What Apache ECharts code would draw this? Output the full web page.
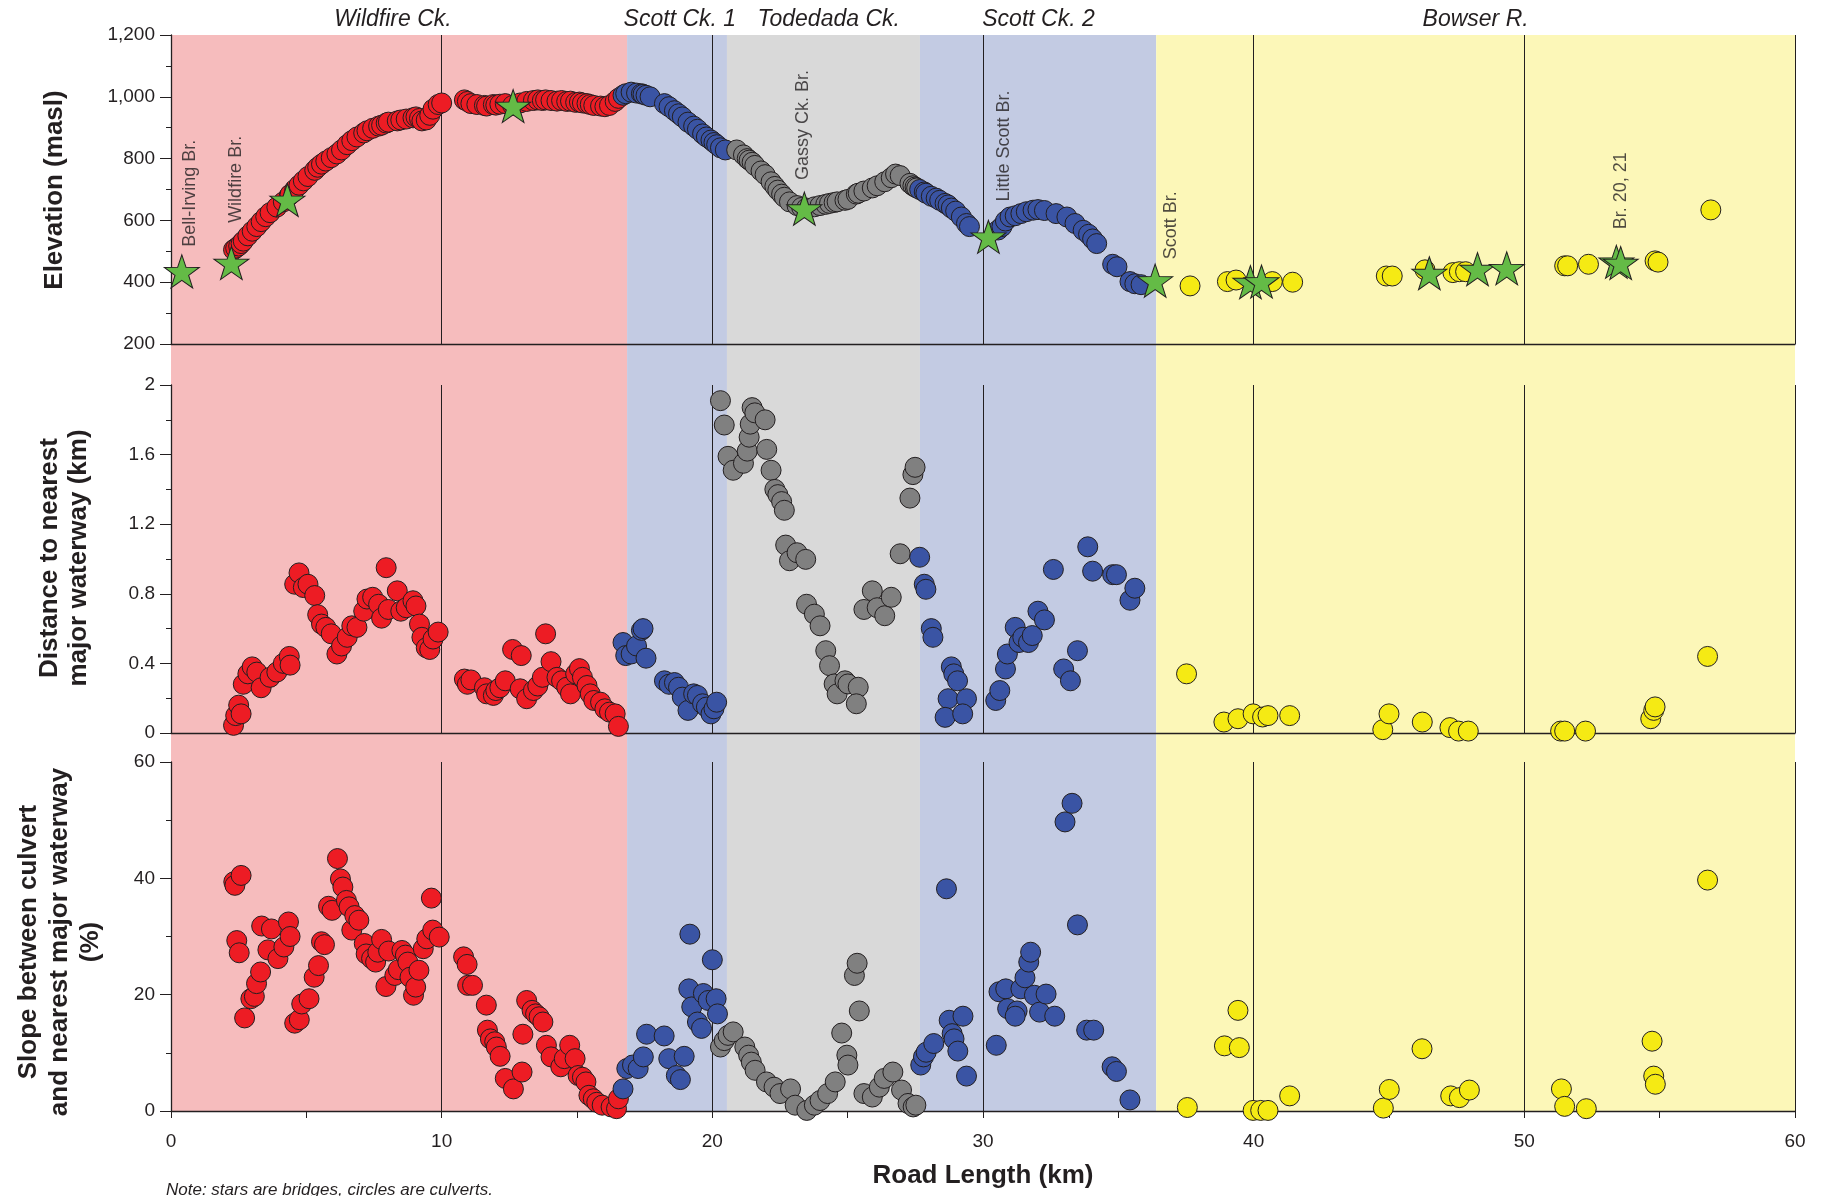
<!DOCTYPE html>
<html><head><meta charset="utf-8">
<script src="https://cdn.jsdelivr.net/npm/echarts@6/dist/echarts.min.js"></script>
<style>html,body{margin:0;padding:0;background:#fff}#c{width:1824px;height:1196px}</style>
</head><body><div id="c"></div>
<script>
// ---------------- DATA ----------------
const regionNames = ['Wildfire Ck.', 'Scott Ck. 1', 'Todedada Ck.', 'Scott Ck. 2', 'Bowser R.'];
const regionStart = [0, 16.85, 20.54, 27.67, 36.4];
const regionEnd   = [16.85, 20.54, 27.67, 36.4, 60];
const regionTitleKm = [8.2, 18.8, 24.3, 32.05, 48.2];

// Elevation (masl) of culverts, [road km, elevation]
const redElev = [[2.31,505],[2.39,510],[2.5,517],[2.59,525],[2.67,533],[2.84,550],[3.0,565],[3.17,580],[3.33,596],[3.5,612],[3.66,625],[3.91,643],[4.15,660],[4.37,680],[4.4,684],[4.57,700],[4.73,714],[4.89,728],[5.06,742],[5.31,762],[5.42,772],[5.56,782],[5.72,792],[5.92,803],[6.13,815],[6.3,828],[6.51,845],[6.68,858],[6.87,870],[7.12,883],[7.24,890],[7.45,898],[7.67,905],[7.78,908],[7.95,915],[8.03,918],[8.36,922],[8.49,925],[8.69,928],[8.94,932],[9.05,935],[9.18,930],[9.27,922],[9.43,925],[9.56,940],[9.68,960],[9.87,975],[10.0,980],
  [10.84,990],[10.95,985],[11.08,978],[11.3,975],[11.58,972],[11.66,970],[11.91,975],[12.0,973],[12.15,976],[12.35,978],[12.62,972],[12.9,980],[13.14,985],[13.39,988],[13.55,990],[13.72,988],[13.84,990],[14.04,988],[14.26,986],[14.43,988],[14.62,985],[14.76,986],[14.95,982],[15.09,983],[15.2,980],[15.37,978],[15.49,975],[15.62,972],[15.87,970],[16.03,968],[16.2,972],[16.41,985],[16.53,995]];
const blue1Elev = [[16.7,1005],[16.8,1010],[17.0,1015],[17.2,1012],[17.38,1010],[17.44,1008],[17.55,1005],[17.7,1000],[18.23,978],[18.4,968],[18.6,955],[18.75,945],[18.89,935],[19.1,918],[19.31,905],[19.45,895],[19.64,880],[19.78,870],[19.95,860],[20.06,852],[20.16,845],[20.3,835],[20.48,828]];
const grayElev = [[20.9,828],[21.15,812],[21.29,800],[21.36,795],[21.47,788],[21.57,778],[21.8,760],[21.95,748],[22.17,725],[22.31,710],[22.42,698],[22.56,685],[22.66,675],[22.85,660],[23.13,648],[23.3,642],[23.48,640],[23.77,644],[23.98,648],[24.19,652],[24.33,655],[24.5,658],[24.61,660],[24.9,665],[25.01,668],[25.32,685],[25.39,688],[25.6,695],[25.91,705],[26.09,712],[26.37,725],[26.61,738],[26.77,750],[26.94,745],[27.3,720],[27.41,712],[27.49,708],[27.55,705]];
const blue2Elev = [[27.66,700],[27.83,692],[27.89,688],[28.09,678],[28.27,672],[28.4,665],[28.6,655],[28.71,650],[28.83,640],[28.99,630],[29.2,611],[29.39,590],[29.5,580],[30.56,569],[30.7,580],[30.83,598],[31.0,611],[31.19,615],[31.4,622],[31.6,628],[31.85,633],[32.03,635],[32.27,632],[32.7,622],[33.1,611],[33.4,590],[33.7,568],[33.9,555],[34.05,540],[34.2,525],[34.79,458],[34.95,450],[35.43,402],[35.61,395],[35.84,392]];
const yellowElev = [[37.65,388],[39.03,402],[39.35,407],[40.69,402],[41.44,400],[44.9,420],[45.12,420],[46.33,440],[47.36,431],[47.6,434],[47.83,434],[51.49,453],[51.6,453],[52.37,458],[54.83,469],[54.94,465],[56.89,634]];
// Bridges (stars), [road km, elevation]
const bridgeElev = [[0.4,435],[2.23,462],[4.3,666],[12.64,970],[23.4,638],[30.2,547],[36.36,405],[39.88,400],[40.29,402],[46.49,429],[48.27,442],[49.35,445],[53.4,466],[53.56,462]];
// Bridge names, anchored at [road km, elevation]
const bridgeNames = ['Bell-Irving Br.', 'Wildfire Br.', 'Gassy Ck. Br.', 'Little Scott Br.', 'Scott Br.', 'Br. 20, 21'];
const bridgeNameAt = [[0.69,515],[2.42,592],[23.34,731],[30.76,661],[36.96,474],[53.56,571]];

// Distance to nearest major waterway (km), [road km, distance]
const redDist = [[2.31,0.044],[2.39,0.10],[2.5,0.16],[2.59,0.11],[2.67,0.28],[2.84,0.34],[3.0,0.38],[3.17,0.35],[3.33,0.26],[3.66,0.32],[3.91,0.35],[4.15,0.40],[4.37,0.44],[4.4,0.39],[4.57,0.855],[4.73,0.92],[4.89,0.836],[5.06,0.855],[5.31,0.79],[5.42,0.68],[5.56,0.626],[5.72,0.607],[5.92,0.57],[6.13,0.454],[6.3,0.50],[6.51,0.55],[6.68,0.616],[6.87,0.607],[7.12,0.70],[7.24,0.77],[7.45,0.78],[7.67,0.74],[7.78,0.66],[7.95,0.95],[8.03,0.71],[8.36,0.817],[8.49,0.70],[8.69,0.72],[8.94,0.76],[9.05,0.73],[9.18,0.626],[9.27,0.55],[9.43,0.49],[9.56,0.48],[9.68,0.54],[9.87,0.58],
  [10.84,0.31],[10.95,0.28],[11.08,0.305],[11.58,0.26],[11.66,0.225],[11.91,0.216],[12.0,0.244],[12.15,0.26],[12.35,0.30],[12.62,0.48],[12.94,0.445],[12.9,0.254],[13.14,0.197],[13.39,0.244],[13.55,0.27],[13.72,0.32],[13.84,0.57],[14.04,0.41],[14.26,0.32],[14.43,0.30],[14.62,0.263],[14.76,0.225],[14.95,0.34],[15.09,0.37],[15.2,0.32],[15.37,0.273],[15.49,0.225],[15.62,0.187],[15.87,0.177],[16.03,0.139],[16.2,0.12],[16.41,0.11],[16.53,0.038]];
const blue1Dist = [[16.7,0.52],[16.8,0.445],[17.0,0.454],[17.2,0.50],[17.38,0.59],[17.44,0.60],[17.55,0.43],[18.23,0.30],[18.4,0.28],[18.6,0.29],[18.75,0.263],[18.89,0.206],[19.1,0.13],[19.31,0.225],[19.45,0.216],[19.64,0.168],[19.78,0.149],[19.95,0.11],[20.06,0.139],[20.16,0.177]];
const grayDist = [[20.3,1.91],[20.44,1.77],[20.58,1.59],[20.77,1.51],[21.15,1.55],[21.29,1.62],[21.36,1.70],[21.4,1.775],[21.47,1.87],[21.57,1.84],[21.95,1.80],[22.01,1.63],[22.17,1.51],[22.31,1.40],[22.42,1.37],[22.56,1.33],[22.66,1.28],[22.71,1.08],[22.85,0.99],[23.13,1.036],[23.45,0.998],[23.48,0.74],[23.77,0.683],[23.98,0.616],[24.19,0.473],[24.33,0.387],[24.5,0.282],[24.61,0.225],[24.9,0.30],[25.01,0.282],[25.39,0.263],[25.32,0.168],[25.6,0.71],[25.91,0.817],[26.09,0.72],[26.37,0.674],[26.61,0.78],[26.94,1.03],[27.3,1.35],[27.41,1.485],[27.49,1.527]];
const blue2Dist = [[27.66,1.01],[27.83,0.855],[27.89,0.826],[28.09,0.60],[28.15,0.55],[28.83,0.38],[28.92,0.34],[29.06,0.30],[28.71,0.197],[29.39,0.197],[28.6,0.09],[29.25,0.11],[30.47,0.187],[30.62,0.244],[30.83,0.368],[30.9,0.454],[31.19,0.607],[31.33,0.52],[31.47,0.55],[31.68,0.52],[31.82,0.56],[32.03,0.70],[32.27,0.65],[32.6,0.94],[32.98,0.368],[33.23,0.30],[33.49,0.473],[33.87,1.07],[34.05,0.93],[34.79,0.91],[34.93,0.91],[35.43,0.763],[35.61,0.832]];
const yellowDist = [[37.52,0.34],[38.9,0.063],[39.42,0.082],[39.98,0.11],[40.33,0.092],[40.53,0.10],[41.33,0.10],[44.77,0.019],[45.0,0.11],[46.23,0.063],[47.25,0.031],[47.57,0.011],[47.93,0.011],[51.34,0.011],[51.49,0.011],[52.26,0.011],[54.67,0.082],[54.78,0.13],[54.83,0.15],[56.77,0.44]];

// Slope between culvert and nearest major waterway (%), [road km, slope]
const redSlope = [[2.32,39.4],[2.36,38.8],[2.59,40.5],[2.43,29.3],[2.52,27.2],[2.72,16.0],[2.95,19.3],[3.08,19.7],[3.16,21.9],[3.31,23.9],[3.35,31.8],[3.71,31.3],[3.58,27.7],[3.95,26.2],[4.17,28.2],[4.34,32.5],[4.4,30.0],[4.57,15.1],[4.74,15.7],[4.83,18.4],[5.1,19.3],[5.29,23.0],[5.45,25.0],[5.56,29.1],[5.67,28.6],[5.82,35.2],[5.95,34.5],[6.15,43.4],[6.26,39.9],[6.35,38.5],[6.48,36.2],[6.58,35.1],[6.68,31.1],[6.79,33.6],[6.94,32.8],[7.14,28.8],[7.21,27.0],[7.41,26.2],[7.56,25.6],[7.64,27.3],[7.78,29.5],[7.94,21.4],[8.04,27.5],[8.27,23.3],[8.4,24.3],[8.53,27.6],[8.66,26.8],[8.75,25.6],[8.83,23.0],[8.96,19.9],[9.04,21.3],[9.16,24.2],[9.32,27.9],[9.45,29.6],[9.62,36.6],[9.67,31.1],[9.91,29.9],
  [10.81,26.5],[10.94,25.2],[10.96,21.6],[11.14,21.6],[11.65,18.2],[11.69,13.9],[11.8,12.4],[11.96,11.9],[12.02,11.0],[12.16,9.4],[12.35,5.6],[12.65,3.8],[13.0,13.2],[12.97,6.7],[13.14,19.0],[13.34,17.3],[13.47,16.7],[13.6,16.2],[13.74,15.3],[13.87,11.3],[14.04,9.3],[14.4,7.6],[14.53,9.0],[14.73,11.3],[14.93,9.0],[15.04,6.1],[15.2,5.8],[15.33,5.0],[15.44,2.7],[15.6,2.1],[15.73,1.5],[15.93,1.0],[16.26,0.7],[16.46,0.4],[16.53,2.1]];
const blue1Slope = [[16.7,3.8],[16.84,7.3],[17.05,7.9],[17.26,7.3],[17.45,9.3],[17.57,13.2],[18.22,12.9],[18.39,9.0],[18.67,6.1],[18.82,5.4],[18.96,9.4],[19.13,21.0],[19.17,30.4],[19.24,17.9],[19.45,15.3],[19.6,14.2],[19.67,20.2],[19.85,19.0],[20.0,26.0],[20.14,19.3],[20.19,16.7]];
const graySlope = [[20.3,11.0],[20.44,12.1],[20.58,13.0],[20.77,13.6],[21.2,11.0],[21.34,9.6],[21.44,8.4],[21.58,7.0],[22.0,5.0],[22.28,4.1],[22.5,3.0],[22.89,3.8],[23.06,1.0],[23.49,0.1],[23.77,1.0],[23.98,1.8],[24.26,3.0],[24.54,5.0],[24.78,13.4],[24.97,9.6],[25.01,7.9],[25.25,23.3],[25.35,25.4],[25.43,17.2],[25.6,3.0],[25.91,2.4],[26.17,4.1],[26.35,5.6],[26.67,6.7],[26.99,3.6],[27.23,1.3],[27.42,0.7],[27.52,1.0]];
const blue2Slope = [[27.7,7.9],[27.8,9.3],[27.9,10.1],[28.18,11.6],[28.65,38.2],[28.75,15.6],[28.86,13.3],[28.93,12.4],[29.07,10.3],[29.26,16.3],[29.39,6.0],[30.49,11.3],[30.59,20.5],[30.84,21.0],[30.91,17.6],[31.26,17.2],[31.19,16.3],[31.4,21.0],[31.55,22.9],[31.69,25.6],[31.76,27.3],[31.9,19.9],[32.09,17.0],[32.33,20.1],[32.65,16.3],[33.03,49.7],[33.29,52.9],[33.49,32.0],[33.83,13.9],[34.09,13.9],[34.77,7.6],[34.93,6.8],[35.43,1.9]];
const yellowSlope = [[37.55,0.6],[38.92,11.2],[39.42,17.3],[39.47,10.9],[39.98,0.1],[40.26,0.1],[40.53,0.1],[41.33,2.6],[44.79,0.5],[45.01,3.7],[46.22,10.7],[47.28,2.6],[47.6,2.3],[47.97,3.6],[51.37,3.8],[51.49,0.8],[52.29,0.4],[54.72,12.0],[54.78,6.0],[54.84,4.6],[56.77,39.7]];

// ---------------- STYLE ----------------
const FONT = '"Liberation Sans", Arial, Helvetica, sans-serif';
const INK = '#231F20';
const regionBg = ['#F6BCBD', '#C3CBE3', '#D9D9D9', '#C3CBE3', '#FCF7B8'];
const C_RED = '#ED1C24', C_BLUE = '#3A54A4', C_GRAY = '#808080', C_YEL = '#F5EA14', C_STAR = '#64BB46';

const starPath = (() => {
  let d = '';
  for (let i = 0; i < 10; i++) {
    const r = i % 2 === 0 ? 50 : 19.5;
    const a = -Math.PI / 2 + i * Math.PI / 5;
    d += (i ? 'L' : 'M') + (r * Math.cos(a)).toFixed(2) + ' ' + (r * Math.sin(a)).toFixed(2) + ' ';
  }
  return 'path://' + d + 'Z';
})();

const chart = echarts.init(document.getElementById('c'), null, { renderer: 'canvas' });

function dots(data, color, idx) {
  return {
    type: 'scatter', xAxisIndex: idx, yAxisIndex: idx, data: data,
    symbol: 'circle', symbolSize: 20, z: 3, silent: true,
    itemStyle: { color: color, borderColor: INK, borderWidth: 1, opacity: 1 }
  };
}

const L = 171, W = 1624;
const grids = [
  { left: L, top: 35, width: W, height: 1076 },
  { left: L, top: 35, width: W, height: 309 },
  { left: L, top: 385, width: W, height: 348 },
  { left: L, top: 762, width: W, height: 349 }
];

function xAx(i) {
  const isBottom = i === 3;
  return {
    type: 'value', gridIndex: i, min: 0, max: 60, interval: 10,
    axisLine: { show: true, onZero: false, lineStyle: { color: INK, width: 1.3 } },
    axisTick: { show: isBottom, length: 7, lineStyle: { color: INK } },
    minorTick: { show: isBottom, splitNumber: 2, length: 7, lineStyle: { color: INK } },
    axisLabel: { show: isBottom, margin: 21, color: INK, fontSize: 19, fontFamily: FONT },
    splitLine: { show: true, lineStyle: { color: INK, width: 1 } }
  };
}
function yAx(i, min, max, interval, fmt) {
  return {
    type: 'value', gridIndex: i, min: min, max: max, interval: interval,
    axisLine: { show: true, onZero: false, lineStyle: { color: INK, width: 1.3 } },
    axisTick: { show: true, length: 11, lineStyle: { color: INK } },
    minorTick: { show: true, splitNumber: 2, length: 5, lineStyle: { color: INK } },
    axisLabel: { margin: 16, color: INK, fontSize: 19, fontFamily: FONT, formatter: fmt },
    splitLine: { show: false }
  };
}

const option = {
  animation: false,
  backgroundColor: '#ffffff',
  textStyle: { fontFamily: FONT },
  grid: grids,
  xAxis: [
    { type: 'value', gridIndex: 0, min: 0, max: 60, show: false },
    xAx(1), xAx(2), xAx(3)
  ],
  yAxis: [
    { type: 'value', gridIndex: 0, min: 0, max: 1, show: false },
    yAx(1, 200, 1200, 200, v => Number(v).toLocaleString('en-US')),
    yAx(2, 0, 2, 0.4, v => String(+Number(v).toFixed(1))),
    yAx(3, 0, 60, 20, v => String(v))
  ],
  series: [
    {
      type: 'custom', xAxisIndex: 0, yAxisIndex: 0, z: -10, clip: false, silent: true,
      data: regionStart.map((s, i) => [s, regionEnd[i], i, regionTitleKm[i]]),
      renderItem: function (params, api) {
        const s = api.value(0), e = api.value(1), i = api.value(2), t = api.value(3);
        const p0 = api.coord([s, 1]), p1 = api.coord([e, 0]), pt = api.coord([t, 1]);
        return {
          type: 'group',
          children: [
            { type: 'rect', shape: { x: p0[0], y: p0[1], width: p1[0] - p0[0], height: p1[1] - p0[1] },
              style: { fill: regionBg[i] } },
            { type: 'text', x: pt[0], y: p0[1] - 15,
              style: { text: regionNames[i], fill: INK, font: 'italic 23px ' + FONT, align: 'center', verticalAlign: 'middle' } }
          ]
        };
      }
    },
    // Elevation panel
    dots(redElev, C_RED, 1), dots(blue1Elev, C_BLUE, 1), dots(grayElev, C_GRAY, 1),
    dots(blue2Elev, C_BLUE, 1), dots(yellowElev, C_YEL, 1),
    {
      type: 'scatter', xAxisIndex: 1, yAxisIndex: 1, data: bridgeElev, z: 4, silent: true,
      symbol: starPath, symbolSize: [35, 33],
      itemStyle: { color: C_STAR, borderColor: INK, borderWidth: 1, opacity: 1 }
    },
    {
      type: 'scatter', xAxisIndex: 1, yAxisIndex: 1, z: 5, silent: true,
      data: bridgeNameAt.map((p, i) => [p[0], p[1], bridgeNames[i]]),
      symbolSize: 1, itemStyle: { color: 'rgba(0,0,0,0)' },
      label: { show: true, formatter: p => p.value[2], rotate: 90, position: 'inside',
        align: 'left', verticalAlign: 'middle', color: INK, fontSize: 18, fontFamily: FONT }
    },
    // Distance panel
    dots(redDist, C_RED, 2), dots(blue1Dist, C_BLUE, 2), dots(grayDist, C_GRAY, 2),
    dots(blue2Dist, C_BLUE, 2), dots(yellowDist, C_YEL, 2),
    // Slope panel
    dots(redSlope, C_RED, 3), dots(blue1Slope, C_BLUE, 3), dots(graySlope, C_GRAY, 3),
    dots(blue2Slope, C_BLUE, 3), dots(yellowSlope, C_YEL, 3)
  ],
  graphic: [
    { type: 'text', x: 55, y: 190, rotation: Math.PI / 2,
      style: { text: 'Elevation (masl)', font: 'bold 26px ' + FONT, fill: INK, align: 'center', verticalAlign: 'middle' } },
    { type: 'text', x: 64, y: 558, rotation: Math.PI / 2,
      style: { text: 'Distance to nearest\nmajor waterway (km)', font: 'bold 26px ' + FONT, lineHeight: 29, fill: INK, align: 'center', verticalAlign: 'middle' } },
    { type: 'text', x: 60, y: 942, rotation: Math.PI / 2,
      style: { text: 'Slope between culvert\nand nearest major waterway\n(%)', font: 'bold 26px ' + FONT, lineHeight: 31, fill: INK, align: 'center', verticalAlign: 'middle' } },
    { type: 'text', x: 983, y: 1176,
      style: { text: 'Road Length (km)', font: 'bold 26px ' + FONT, fill: INK, align: 'center', verticalAlign: 'middle' } },
    { type: 'text', x: 166, y: 1190,
      style: { text: 'Note: stars are bridges, circles are culverts.', font: 'italic 17px ' + FONT, fill: INK, align: 'left', verticalAlign: 'middle' } }
  ]
};
chart.setOption(option);
</script>
</body></html>
